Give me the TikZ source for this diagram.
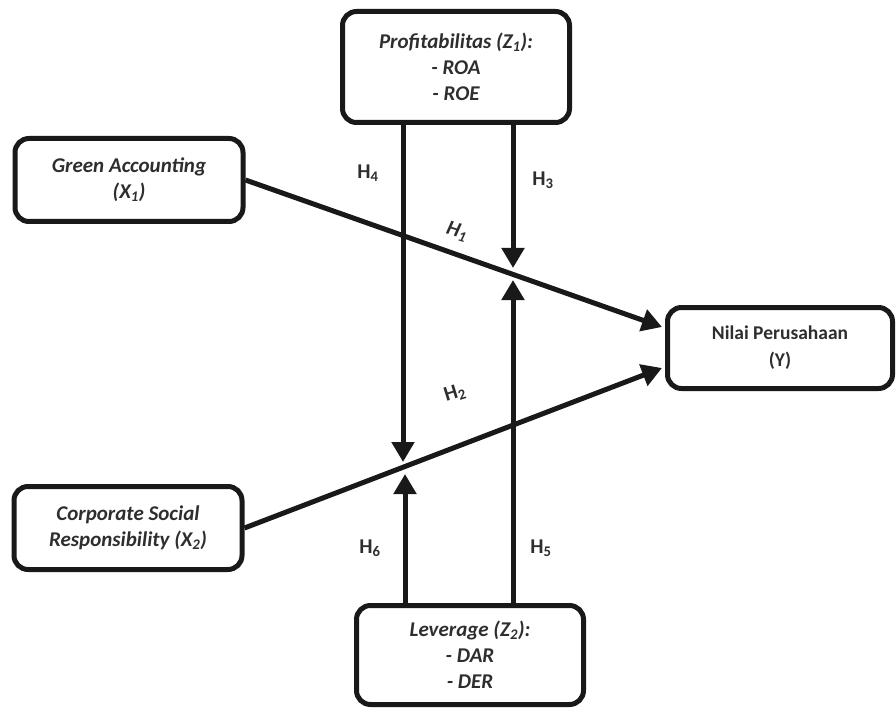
\documentclass[tikz,border=0pt]{standalone}
\usepackage{fontspec}
\setmainfont{Carlito}
\usetikzlibrary{arrows.meta,calc}
\definecolor{txt}{HTML}{2E2E2E}
\begin{document}
\begin{tikzpicture}[x=1pt,y=-1pt,
  box/.style={draw=black!90,line width=5pt,rounded corners=14pt,align=center,
    inner sep=0pt,font=\fontsize{21}{26}\selectfont\bfseries\itshape,text=txt},
  conn/.style={draw=black!90,line width=5pt,-{Triangle[length=20pt,width=22pt]}},
  hlab/.style={font=\fontsize{21}{24}\selectfont\bfseries,text=txt}]
\useasboundingbox (0,0) rectangle (896,711);
\node[box,minimum width=227pt,minimum height=111pt] (p) at (456,67)
  {Profitabilitas (Z\textsubscript{1}):\\- ROA\\- ROE};
\node[box,minimum width=228pt,minimum height=83pt] (ga) at (129,180)
  {Green Accounting\\(X\textsubscript{1})};
\node[box,minimum width=228pt,minimum height=83pt] (csr) at (128,528)
  {Corporate Social\\Responsibility (X\textsubscript{2})};
\node[box,minimum width=227pt,minimum height=99pt] (lev) at (470,655)
  {Leverage (Z\textsubscript{2}):\\- DAR\\- DER};
\node[box,minimum width=225pt,minimum height=81pt,font=\fontsize{19.5}{27}\selectfont\bfseries] (nv) at (780,348)
  {Nilai Perusahaan\\(Y)};
\coordinate (t1) at ($(nv.west)+(-3,-21)$);
\coordinate (t2) at ($(nv.west)+(-3,20)$);
\coordinate (t3) at (513,268);
\coordinate (t4) at (403,462);
\coordinate (t5) at (513,280);
\coordinate (t6) at (405,474);
\draw[conn] (ga.east) -- (t1);
\draw[conn] (csr.east) -- (t2);
\draw[conn] (p.south -| t3) -- (t3);
\draw[conn] (p.south -| t4) -- (t4);
\draw[conn] (lev.north -| t5) -- (t5);
\draw[conn] (lev.north -| t6) -- (t6);
\node[hlab] (h4) at (368,173) {H\textsubscript{4}};
\node[hlab] (h3) at (543,180) {H\textsubscript{3}};
\node[hlab,font=\fontsize{21}{24}\selectfont\bfseries\itshape,rotate=-17] (h1) at (457,232) {H\textsubscript{1}};
\node[hlab,rotate=17] (h2) at (455,393) {H\textsubscript{2}};
\node[hlab] (h6) at (370,548) {H\textsubscript{6}};
\node[hlab] (h5) at (541,548) {H\textsubscript{5}};
\end{tikzpicture}
\end{document}
